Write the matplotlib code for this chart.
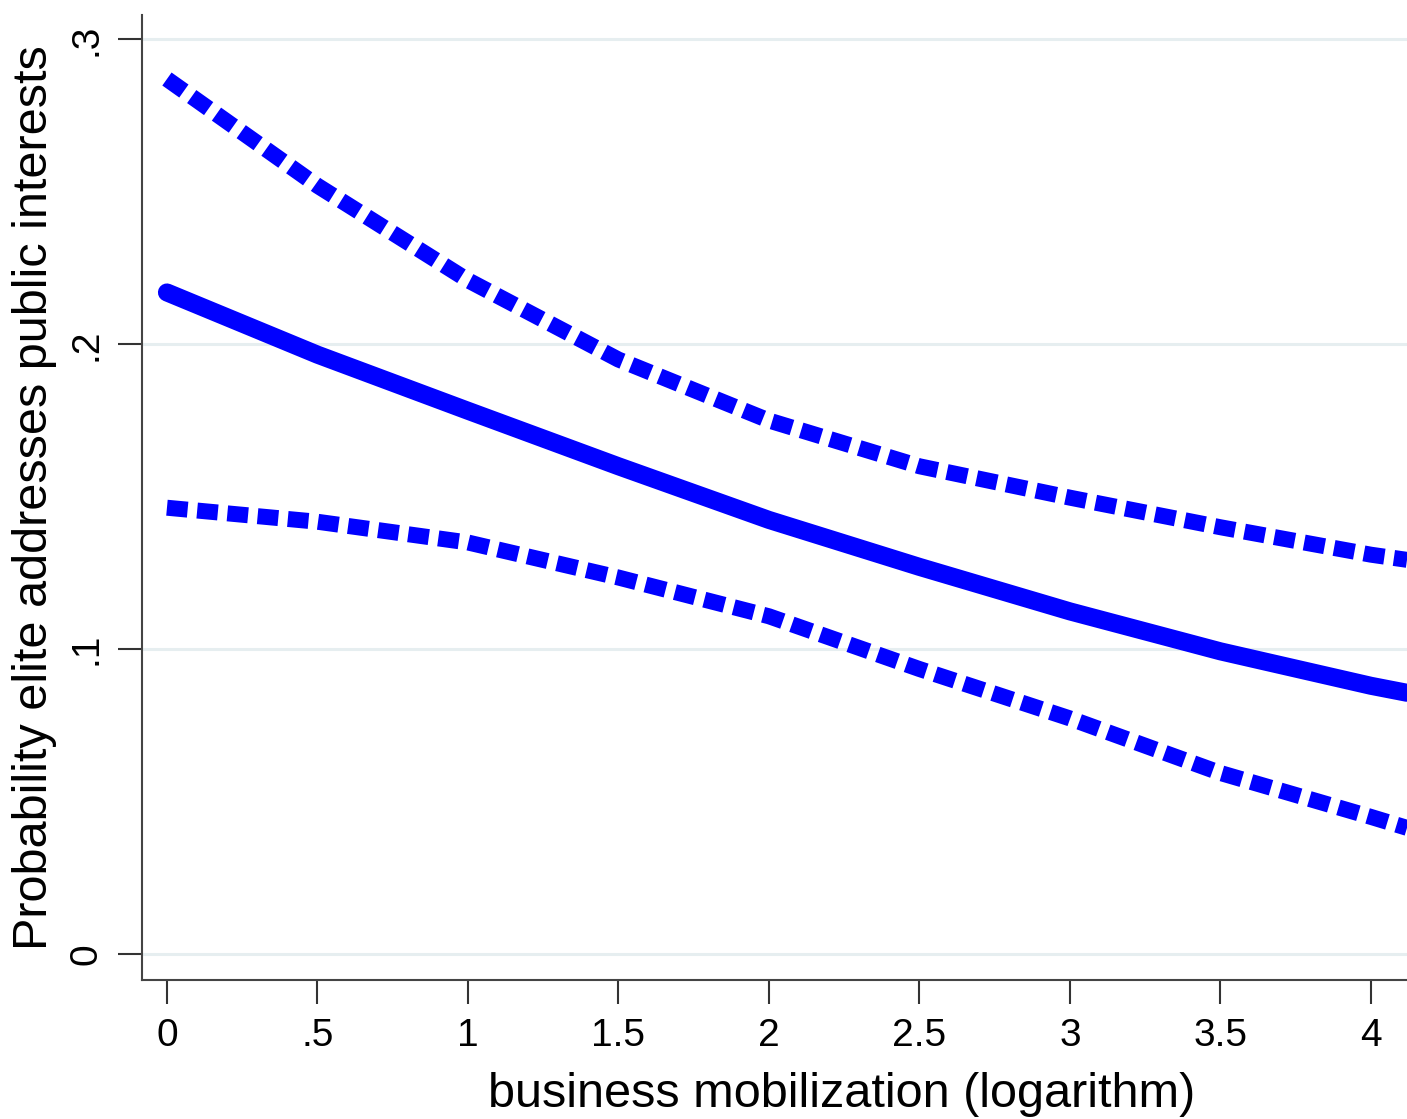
import matplotlib
matplotlib.use("Agg")
import matplotlib.pyplot as plt

plt.rcParams["font.family"] = ["Liberation Sans", "DejaVu Sans"]

# predicted probability and 95% CI
mobilization = [0.0, 0.5, 1.0, 1.5, 2.0, 2.5, 3.0, 3.5, 4.0, 4.12]
prob = [0.217, 0.1966, 0.1782, 0.1600, 0.1424, 0.127, 0.1124, 0.0993, 0.088, 0.0857]
ci_upper = [0.287, 0.252, 0.221, 0.195, 0.1750, 0.160, 0.1497, 0.1400, 0.131, 0.1293]
ci_lower = [0.1464, 0.1418, 0.135, 0.1235, 0.1108, 0.0935, 0.0773, 0.0594, 0.045, 0.0414]

x_ticks = [0, 0.5, 1, 1.5, 2, 2.5, 3, 3.5, 4]
x_tick_labels = ["0", ".5", "1", "1.5", "2", "2.5", "3", "3.5", "4"]
y_ticks = [0, 0.1, 0.2, 0.3]
y_tick_labels = ["0", ".1", ".2", ".3"]

fig = plt.figure(figsize=(14.07, 11.19), dpi=100)
ax = fig.add_axes([0.1009, 0.1242, 0.8991, 0.8624])

blue = "#0000ff"
ax.plot(mobilization, prob, color=blue, lw=13, solid_capstyle="round",
        solid_joinstyle="round", zorder=3)
for band in (ci_upper, ci_lower):
    ax.plot(mobilization, band, color=blue, lw=11.5, linestyle=(0, (1.3, 0.6)),
            dash_capstyle="butt", zorder=3)

ax.set_xlim(-0.083, 4.12)
ax.set_ylim(-0.0085, 0.308)

ax.set_xticks(x_ticks)
ax.set_xticklabels(x_tick_labels)
ax.set_yticks(y_ticks)
ax.set_yticklabels(y_tick_labels, rotation=90, va="center")
ax.tick_params(axis="both", labelsize=28, length=17, width=1.5, color="#333333", pad=10)

ax.grid(axis="y", color="#e6eef0", lw=2.2, zorder=0)
ax.set_axisbelow(True)

for side in ("top", "right"):
    ax.spines[side].set_visible(False)
for side in ("left", "bottom"):
    ax.spines[side].set_color("#444444")
    ax.spines[side].set_linewidth(1.5)

ax.set_xlabel("business mobilization (logarithm)", fontsize=35)
ax.xaxis.set_label_coords(0.553, -0.095)
ax.set_ylabel("Probability elite addresses public interests", fontsize=35, labelpad=8)

fig.savefig("out.png", dpi=100)
